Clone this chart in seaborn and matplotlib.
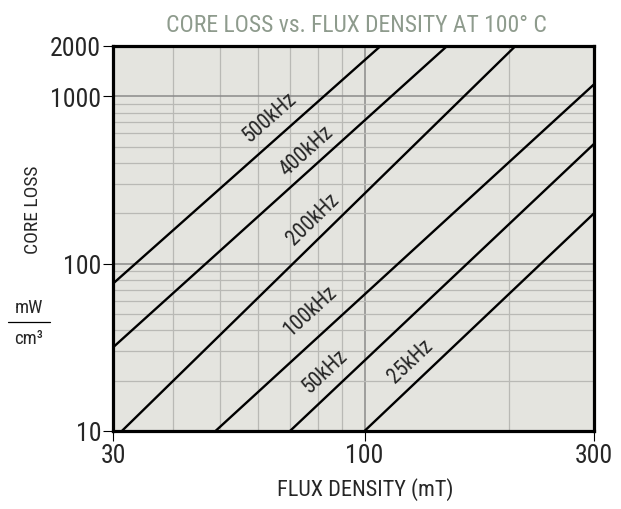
import numpy as np
import pandas as pd
import matplotlib
matplotlib.use("Agg")
import matplotlib.pyplot as plt
import seaborn as sns
from matplotlib import font_manager
from matplotlib.ticker import LogLocator, NullFormatter
from matplotlib.lines import Line2D

# end points of each loss line (flux in mT, loss in mW/cm3)
freqs = ["500kHz", "400kHz", "200kHz", "100kHz", "50kHz", "25kHz"]
flux_start = [30, 30, 31.3, 49, 70, 100]
flux_end = [108, 148.5, 206, 300, 300, 300]
loss_start = [76, 31.6, 10, 10, 10, 10]
loss_end = [2000, 2000, 2000, 1180, 520, 200]

x_ticks = [30, 100, 300]
y_ticks = [10, 100, 1000, 2000]

# where each frequency label sits along its line (flux value) and its gap in px
label_flux = [68, 80, 83, 83.6, 88.5, 133]
label_gap = [21, 17, 18, 25, 20, 19]

df = pd.DataFrame({
    "freq": np.repeat(freqs, 2),
    "flux": np.ravel(np.column_stack([flux_start, flux_end])),
    "loss": np.ravel(np.column_stack([loss_start, loss_end])),
})

sns.set_style("ticks")

# the original uses a condensed face; take the narrowest one that is installed
fonts = font_manager.fontManager.ttflist
names = {f.name for f in fonts}
main_font = None
for cand in ["Liberation Sans Narrow", "Roboto Condensed", "Noto Sans Condensed",
             "Open Sans Condensed", "DejaVu Sans Condensed"]:
    if cand in names:
        main_font = cand
        break
stretch = "normal"
if main_font is None:
    narrow = sorted(f.name for f in fonts if "Condensed" in f.name or "Narrow" in f.name)
    if narrow:
        main_font = narrow[0]
    else:
        cond = [f for f in fonts if f.stretch in ("condensed", "semi-condensed", "extra-condensed")]
        if cond:
            main_font = cond[0].name
            stretch = cond[0].stretch
        else:
            main_font = "Liberation Sans"
scale = 1.0 if main_font != "Liberation Sans" else 0.86
plt.rcParams["font.family"] = [main_font, "DejaVu Sans"]
plt.rcParams["font.stretch"] = stretch

dpi = 100
fig = plt.figure(figsize=(6.21, 5.10), dpi=dpi)
ax = fig.add_axes([113 / 621, 78 / 510, 481 / 621, 385 / 510])
ax.set_facecolor("#e4e4df")
ax.set_xscale("log")
ax.set_yscale("log")

sns.lineplot(data=df, x="flux", y="loss", hue="freq", palette=["black"] * len(freqs),
             estimator=None, sort=False, legend=False, lw=1.7, ax=ax)

ax.set_xlim(30, 300)
ax.set_ylim(10, 2000)
ax.set_xticks(x_ticks, labels=[str(v) for v in x_ticks])
ax.set_yticks(y_ticks, labels=[str(v) for v in y_ticks])
ax.xaxis.set_minor_locator(LogLocator(base=10, subs=np.arange(2, 10)))
ax.yaxis.set_minor_locator(LogLocator(base=10, subs=np.arange(2, 10)))
ax.xaxis.set_minor_formatter(NullFormatter())
ax.yaxis.set_minor_formatter(NullFormatter())
ax.tick_params(which="major", length=7, width=0.8, pad=1.5, labelsize=18.5 * scale, color="black")
ax.tick_params(which="minor", length=0)
ax.set_axisbelow(True)
ax.grid(which="major", color="#8a8a8a", lw=1.1)
ax.grid(which="minor", color="#b9b9b5", lw=0.9)
for s in ax.spines.values():
    s.set_linewidth(2.3)
    s.set_color("black")

ax.set_xlabel("FLUX DENSITY (mT)", fontsize=16 * scale, va="center")
ax.xaxis.set_label_coords((365 - 113) / 481, (432 - 490) / 385)
ax.set_ylabel("")

# rotated frequency labels, parallel to each line
for i, name in enumerate(freqs):
    lx = label_flux[i]
    ly = 10 ** np.interp(np.log10(lx), [np.log10(flux_start[i]), np.log10(flux_end[i])],
                         [np.log10(loss_start[i]), np.log10(loss_end[i])])
    p1 = ax.transData.transform((flux_start[i], loss_start[i]))
    p2 = ax.transData.transform((flux_end[i], loss_end[i]))
    ang = np.arctan2(p2[1] - p1[1], p2[0] - p1[0])
    gap = label_gap[i] * 72 / dpi
    ax.annotate(name, xy=(lx, ly), xytext=(-np.sin(ang) * gap, np.cos(ang) * gap),
                textcoords="offset points", rotation=np.degrees(ang),
                rotation_mode="anchor", ha="center", va="center", fontsize=15.5 * scale)

fig.text(356 / 621, 1 - 25 / 510, "CORE LOSS vs. FLUX DENSITY AT 100\u00b0 C",
         ha="center", va="center", fontsize=17 * scale, color="#8e9b8d")
fig.text(33 / 621, 1 - 210 / 510, "CORE LOSS", rotation=90, ha="center", va="center",
         fontsize=14 * scale)
fig.text(29 / 621, 1 - 308 / 510, "mW", ha="center", va="center", fontsize=13.5 * scale)
fig.text(29 / 621, 1 - 339 / 510, "cm\u00b3", ha="center", va="center", fontsize=13.5 * scale)
fig.add_artist(Line2D([8 / 621, 50 / 621], [1 - 323 / 510, 1 - 323 / 510],
                      transform=fig.transFigure, color="black", lw=0.9))

fig.savefig("out.png", dpi=dpi)
